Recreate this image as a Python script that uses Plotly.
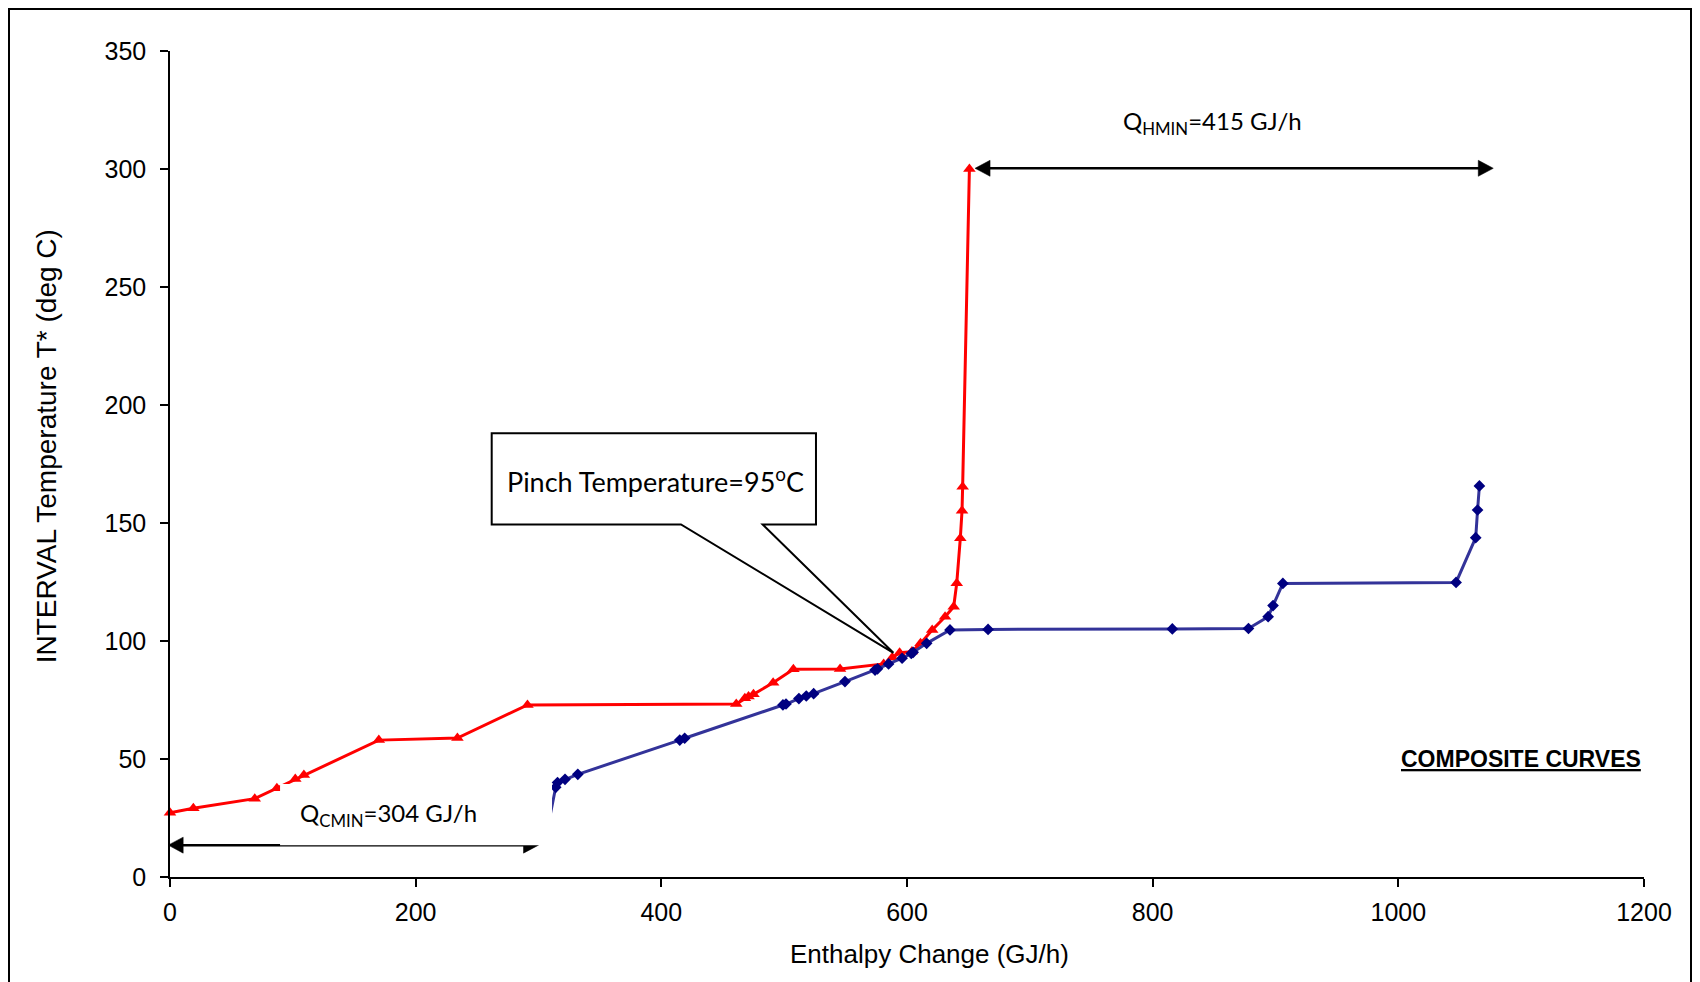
import plotly.graph_objects as go

# ---------------- data ----------------
hot_enthalpy = [0, 19, 69, 87, 102, 109, 170, 234, 291, 461, 468, 471, 475, 491,
                507.5, 545.5, 581, 588, 594, 604, 611, 620.5, 631, 638, 640.5,
                643.4, 644.8, 645.3, 650.8]
hot_temp = [27.2, 29.1, 33.2, 37.6, 41.5, 43.2, 58, 58.9, 72.9, 73.3, 75.7, 76.5,
            77.4, 82.3, 88, 88.1, 90.3, 93, 95, 95.5, 99, 104.7, 110.3, 114.5,
            124.5, 143.5, 155.2, 165.4, 300]

cold_enthalpy = [306, 314, 315.5, 321.6, 332, 415, 419, 499, 501.5, 512, 518, 524,
                 549.5, 574, 576, 585, 596, 603.5, 605, 616, 635, 666, 816, 878,
                 894, 898, 906, 1047, 1063, 1064.5, 1066]
cold_temp = [17, 38, 40, 41.4, 43.5, 58, 58.8, 72.9, 73.3, 75.6, 76.7, 77.7, 82.8,
             87.7, 88.2, 90.3, 92.7, 94.7, 95.2, 99, 104.7, 104.9, 105.1, 105.3,
             110.3, 115, 124.4, 124.8, 143.8, 155.5, 165.7]

x_ticks = [0, 200, 400, 600, 800, 1000, 1200]
y_ticks = [0, 50, 100, 150, 200, 250, 300, 350]

x_title = "Enthalpy Change (GJ/h)"
y_title = "INTERVAL Temperature T* (deg C)"

# annotation anchors (data units)
qcmin_arrow = (-1.5, 300, 13.5)      # x_start, x_end, y
qhmin_arrow = (655.4, 1077.3, 300.3)
pinch_point = (588.9, 95)

# ---------------- layout constants ----------------
# (the page body adds an 8px offset, so margins are reduced by 8)
W, H = 1700, 982
ML, MT = 162, 43
PW, PH = 1474, 826
MR, MB = W - ML - PW, H - MT - PH
XR, YR = (0, 1200), (0, 350)
PX_X = (XR[1] - XR[0]) / PW   # data units per pixel
PX_Y = (YR[1] - YR[0]) / PH

AX_FONT = "Liberation Sans, Arial, sans-serif"
CAL_FONT = "Lato, Carlito, Calibri, sans-serif"

fig = go.Figure()
fig.add_trace(go.Scatter(
    x=hot_enthalpy, y=hot_temp, mode="lines+markers", name="Hot composite",
    line=dict(color="#FF0000", width=3),
    marker=dict(symbol="triangle-up", size=11, color="#FF0000"),
    cliponaxis=False))
fig.add_trace(go.Scatter(
    x=cold_enthalpy, y=cold_temp, mode="lines+markers", name="Cold composite",
    line=dict(color="#333399", width=3),
    marker=dict(symbol="diamond", size=9, color="#000080"),
    cliponaxis=False))

shapes = []


def arrow_shapes(x0, x1, y, head_len=15, head_half=8, width=2.5):
    out = [dict(type="line", xref="x", yref="y", x0=x0 + 8 * PX_X, x1=x1 - 8 * PX_X,
                y0=y, y1=y, line=dict(color="black", width=width), layer="above")]
    L, Hh = head_len * PX_X, head_half * PX_Y
    out.append(dict(type="path", xref="x", yref="y", layer="above",
                    path=f"M {x0},{y} L {x0 + L},{y + Hh} L {x0 + L},{y - Hh} Z",
                    fillcolor="black", line=dict(color="black", width=0.5)))
    out.append(dict(type="path", xref="x", yref="y", layer="above",
                    path=f"M {x1},{y} L {x1 - L},{y + Hh} L {x1 - L},{y - Hh} Z",
                    fillcolor="black", line=dict(color="black", width=0.5)))
    return out


shapes += arrow_shapes(*qcmin_arrow)
shapes += arrow_shapes(*qhmin_arrow)

# white text box of the Q_CMIN label (covers part of the arrow and curves)
shapes.append(dict(type="rect", xref="x", yref="y", layer="above",
                   x0=89.6, x1=311, y0=qcmin_arrow[2], y1=39.4,
                   fillcolor="white", line=dict(width=0)))

# pinch callout
bx0, bx1, by0, by1 = 261.9, 525.9, 149.4, 188
w0, w1 = 416, 482.5
px, py = pinch_point
shapes.append(dict(
    type="path", xref="x", yref="y", layer="above",
    path=(f"M {bx0},{by1} L {bx1},{by1} L {bx1},{by0} L {w1},{by0} "
          f"L {px},{py} L {w0},{by0} L {bx0},{by0} Z"),
    fillcolor="white", line=dict(color="black", width=2)))

# outer frame
shapes.append(dict(type="rect", xref="paper", yref="paper",
                   x0=(1 - ML) / PW, x1=(1683 - ML) / PW,
                   y0=-0.3, y1=(PH + MT - 1) / PH,
                   line=dict(color="black", width=2), fillcolor="rgba(0,0,0,0)"))

annotations = [
    dict(x=177.5, y=26.3, xref="x", yref="y", showarrow=False,
         text="Q<sub>CMIN</sub>=304 GJ/h",
         font=dict(family=CAL_FONT, size=24, color="black")),
    dict(x=849, y=319.5, xref="x", yref="y", showarrow=False,
         text="Q<sub>HMIN</sub>=415 GJ/h",
         font=dict(family=CAL_FONT, size=24, color="black")),
    dict(x=394.9, y=168.2, xref="x", yref="y", showarrow=False,
         text="Pinch Temperature=95<sup>o</sup>C",
         font=dict(family=CAL_FONT, size=27, color="black")),
    dict(x=1099.5, y=50, xref="x", yref="y", showarrow=False,
         text="<b><u>COMPOSITE CURVES</u></b>",
         font=dict(family=AX_FONT, size=23, color="black")),
    # axis titles (placed as in the reference, slightly off-centre)
    dict(x=(921.7 - ML) / PW, y=(PH + MT - 946) / PH, xref="paper", yref="paper",
         showarrow=False, text=x_title, xanchor="center", yanchor="middle",
         font=dict(family=AX_FONT, size=26, color="black")),
    dict(x=(38.6 - ML) / PW, y=(PH + MT - 438.7) / PH, xref="paper", yref="paper",
         showarrow=False, text=y_title, textangle=-90,
         xanchor="center", yanchor="middle",
         font=dict(family=AX_FONT, size=28, color="black")),
]

fig.update_layout(
    width=W, height=H,
    margin=dict(l=ML, r=MR, t=MT, b=MB, pad=0),
    paper_bgcolor="white", plot_bgcolor="white",
    showlegend=False,
    shapes=shapes, annotations=annotations,
    xaxis=dict(range=list(XR), tickvals=x_ticks, ticktext=[str(v) for v in x_ticks],
               showgrid=False, zeroline=False, showline=True, linecolor="black",
               linewidth=2, ticks="outside", ticklen=8, tickcolor="black",
               tickwidth=1.5, ticklabelstandoff=4, automargin=False,
               tickfont=dict(family=AX_FONT, size=25, color="black")),
    yaxis=dict(range=list(YR), tickvals=y_ticks, ticktext=[str(v) for v in y_ticks],
               showgrid=False, zeroline=False, showline=True, linecolor="black",
               linewidth=1.5, ticks="outside", ticklen=8, tickcolor="black",
               tickwidth=1.5, ticklabelstandoff=9, automargin=False,
               tickfont=dict(family=AX_FONT, size=25, color="black")),
)

fig.write_html("out.html")
